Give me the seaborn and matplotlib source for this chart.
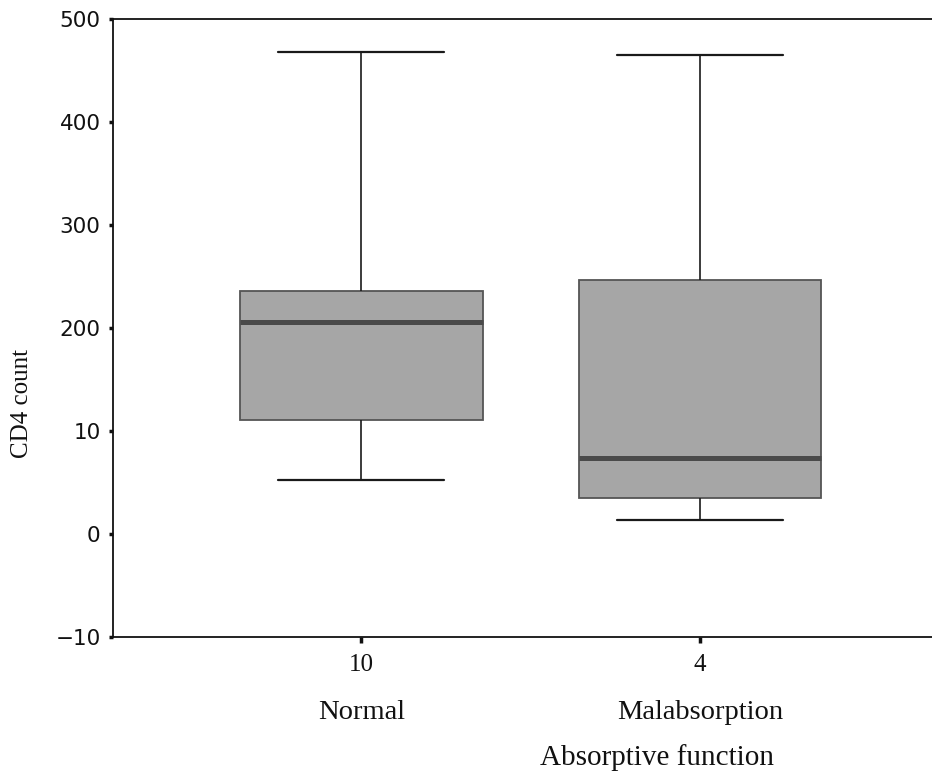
import numpy as np
import pandas as pd
import matplotlib
matplotlib.use("Agg")
import matplotlib.pyplot as plt
import seaborn as sns

# Five-number summaries of CD4 count per absorptive-function group
groups = ["Normal", "Malabsorption"]
group_n = [10, 4]
normal_summary = [52, 111, 206, 236, 468]         # min, Q1, median, Q3, max
malabsorption_summary = [14, 35, 74, 247, 465]    # min, Q1, median, Q3, max

# Y tick positions and their printed labels
y_tick_values = [-100, 0, 100, 200, 300, 400, 500]
y_tick_labels = ["\u221210", "0", "10", "200", "300", "400", "500"]

df = pd.DataFrame({
    "group": [groups[0]] * len(normal_summary) + [groups[1]] * len(malabsorption_summary),
    "cd4": normal_summary + malabsorption_summary,
})

sns.set_style("ticks")
plt.rcParams["font.family"] = ["DejaVu Sans"]

W, H = 932, 774
fig = plt.figure(figsize=(W / 100, H / 100), dpi=100)
ax = fig.add_axes([113 / W, 1 - 637 / H, 1 - 113 / W, (637 - 19) / H])

box_width = 0.716
sns.boxplot(
    data=df, x="group", y="cd4", order=groups, ax=ax,
    whis=(0, 100), width=box_width, color="#a6a6a6", fliersize=0,
    boxprops=dict(facecolor="#a6a6a6", edgecolor="#555555", linewidth=1.3),
    medianprops=dict(color="#4a4a4a", linewidth=3.6),
    whiskerprops=dict(color="#1a1a1a", linewidth=1.2),
    capprops=dict(color="#1a1a1a", linewidth=1.6),
)

# Widen the whisker caps
cap_width = 0.49
for line in ax.lines:
    xd = np.asarray(line.get_xdata(), dtype=float)
    yd = np.asarray(line.get_ydata(), dtype=float)
    if len(xd) == 2 and yd[0] == yd[1] and 0 < (xd[1] - xd[0]) < box_width * 0.9:
        c = xd.mean()
        line.set_xdata([c - cap_width / 2, c + cap_width / 2])

ax.set_xlim(-0.734, 1.686)
ax.set_ylim(-100, 500)

ax.set_yticks(y_tick_values)
ax.set_yticklabels(y_tick_labels, fontsize=15.5, family="DejaVu Sans")
ax.set_xticks([0, 1])
ax.set_xticklabels([str(n) for n in group_n], fontsize=18, family="Liberation Serif")

ax.tick_params(axis="y", direction="out", length=3, width=2.5, pad=6, colors="#111111")
ax.tick_params(axis="x", direction="out", length=4, width=2.5, pad=8, colors="#111111")

for i, name in enumerate(groups):
    ax.text(i, -0.122, name, transform=ax.get_xaxis_transform(),
            ha="center", va="center", fontsize=20.5, family="Liberation Serif",
            color="#111111")

ax.set_ylabel("")
ax.set_xlabel("")
fig.text(22 / W, 1 - 404 / H, "CD4 count", rotation=90, ha="center", va="center",
         fontsize=18, family="Liberation Serif", color="#111111")
fig.text(657 / W, 1 - 758 / H, "Absorptive function", ha="center", va="center",
         fontsize=21, family="Liberation Serif", color="#111111")

for side in ["left", "bottom", "top"]:
    ax.spines[side].set_visible(True)
    ax.spines[side].set_linewidth(1.3)
    ax.spines[side].set_color("#111111")
ax.spines["right"].set_visible(False)

fig.savefig("out.png", dpi=100)
